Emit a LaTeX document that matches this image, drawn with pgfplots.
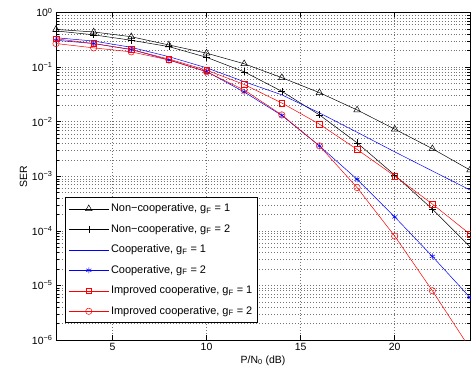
\documentclass[border=0pt]{standalone}
\usepackage{pgfplots}
\pgfplotsset{compat=1.18}
\usepackage{fontspec}
\setmainfont{Liberation Sans}
\begin{document}
\begin{tikzpicture}
\path[use as bounding box] (-56bp,-39bp) rectangle (415bp,340bp);
\begin{axis}[
  at={(0,0)}, anchor=south west,
  scale only axis, width=414bp, height=327.5bp,
  ymode=log, xmin=2, xmax=24, ymin=1e-6, ymax=1,
  xtick={5,10,15,20},
  ytick={1e-6,1e-5,1e-4,1e-3,1e-2,1e-1,1},
  yticklabels={10\textsuperscript{−6},10\textsuperscript{−5},10\textsuperscript{−4},10\textsuperscript{−3},10\textsuperscript{−2},10\textsuperscript{−1},10\textsuperscript{0}},
  minor ytick={2e-6,3e-6,4e-6,5e-6,6e-6,7e-6,8e-6,9e-6,
               2e-5,3e-5,4e-5,5e-5,6e-5,7e-5,8e-5,9e-5,
               2e-4,3e-4,4e-4,5e-4,6e-4,7e-4,8e-4,9e-4,
               2e-3,3e-3,4e-3,5e-3,6e-3,7e-3,8e-3,9e-3,
               2e-2,3e-2,4e-2,5e-2,6e-2,7e-2,8e-2,9e-2,
               2e-1,3e-1,4e-1,5e-1,6e-1,7e-1,8e-1,9e-1},
  /pgf/number format/assume math mode=true,
  tick label style={font=\fontsize{10.5}{12}\selectfont},
  label style={font=\fontsize{10.5}{12}\selectfont},
  xlabel={P/N\textsubscript{0} (dB)},
  ylabel={SER},
  xlabel style={yshift=2bp},
  ylabel style={yshift=-2bp},
  xmajorgrids, ymajorgrids, yminorgrids,
  grid style={black!55, line width=0.5pt, dash pattern=on 0.6pt off 2.4pt},
  minor grid style={black!55, line width=0.5pt, dash pattern=on 0.6pt off 2.4pt},
  major tick length=5bp, minor tick length=3bp,
  tick style={black, line width=0.5pt},
  axis line style={line width=0.8pt},
  legend cell align=left,
  legend style={at={(rel axis cs:0.022,0.052)}, anchor=south west,
    font=\fontsize{11}{13}\selectfont, draw=black, line width=0.9pt,
    inner xsep=3bp, inner ysep=1bp,
    nodes={text height=8.5bp, text depth=3bp, inner ysep=4.5bp}},
  legend image post style={xscale=2.35, every mark/.append style={xscale=0.4255}},
  every axis plot/.append style={line width=0.5pt},
]
\addplot[black, mark=triangle, mark size=3.8pt, mark options={solid, line width=0.5pt}] coordinates {
(2,0.49)(4,0.44)(6,0.36)(8,0.254)(10,0.18)(12,0.115)(14,0.064)(16,0.034)(18,0.0164)(20,0.0073)(22,0.0032)(24,0.0013)};
\addlegendentry{Non−cooperative, g\textsubscript{F} = 1}
\addplot[black, mark=+, mark size=3.5pt, mark options={line width=0.5pt}] coordinates {
(2,0.46)(4,0.39)(6,0.31)(8,0.237)(10,0.151)(12,0.082)(14,0.036)(16,0.0133)(18,0.0041)(20,0.00105)(22,0.00025)(24,0.000051)};
\addlegendentry{Non−cooperative, g\textsubscript{F} = 2}
\addplot[blue] coordinates {
(2,0.345)(4,0.30)(6,0.23)(8,0.155)(10,0.097)(12,0.054)(14,0.031)(16,0.0145)(18,0.0064)(20,0.0028)(22,0.00125)(24,0.00056)};
\addlegendentry{Cooperative, g\textsubscript{F} = 1}
\addplot[blue, mark=asterisk, mark size=3pt, mark options={line width=0.5pt}] coordinates {
(2,0.31)(4,0.27)(6,0.21)(8,0.135)(10,0.083)(12,0.035)(14,0.013)(16,0.0036)(18,0.00088)(20,0.00018)(22,0.000034)(24,0.000006)};
\addlegendentry{Cooperative, g\textsubscript{F} = 2}
\addplot[red, mark=square, mark size=2.8pt, mark options={line width=0.5pt}] coordinates {
(2,0.33)(4,0.27)(6,0.21)(8,0.14)(10,0.088)(12,0.048)(14,0.022)(16,0.009)(18,0.0031)(20,0.00101)(22,0.00031)(24,0.000087)};
\addlegendentry{Improved cooperative, g\textsubscript{F} = 1}
\addplot[red, mark=o, mark size=3.2pt, mark options={line width=0.5pt}] coordinates {
(2,0.27)(4,0.225)(6,0.19)(8,0.135)(10,0.082)(12,0.038)(14,0.0133)(16,0.0036)(18,0.00062)(20,0.00008)(22,0.000008)(24,0.0000007)};
\addlegendentry{Improved cooperative, g\textsubscript{F} = 2}
\end{axis}
\end{tikzpicture}
\end{document}
